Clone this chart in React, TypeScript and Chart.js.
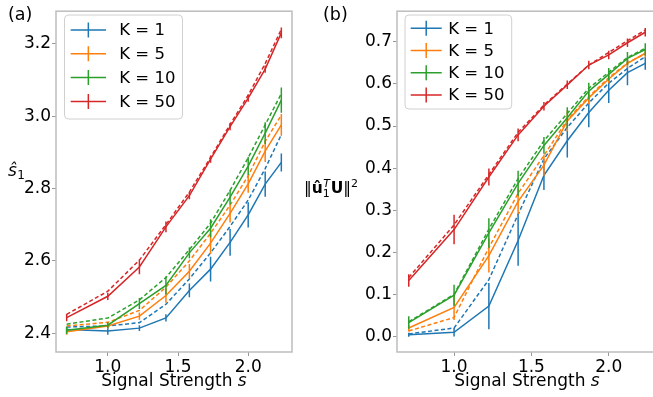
import React, { useEffect, useRef } from "react";
import { Chart, registerables } from "chart.js";
Chart.register(...registerables);

const xs = [0.707, 1.0, 1.225, 1.414, 1.581, 1.732, 1.871, 2.0, 2.121, 2.236];
const kLabels = ["K = 1", "K = 5", "K = 10", "K = 50"];
const colors = ["#1f77b4", "#ff7f0e", "#2ca02c", "#d62728"];
const xTicks = [1.0, 1.5, 2.0];

const aTicks = [2.4, 2.6, 2.8, 3.0, 3.2];
const aMeanK1 = [2.41, 2.406, 2.414, 2.442, 2.518, 2.577, 2.651, 2.727, 2.812, 2.872];
const aMeanK5 = [2.404, 2.42, 2.447, 2.504, 2.571, 2.649, 2.731, 2.813, 2.903, 2.976];
const aMeanK10 = [2.408, 2.422, 2.482, 2.532, 2.622, 2.69, 2.776, 2.862, 2.953, 3.044];
const aMeanK50 = [2.443, 2.502, 2.583, 2.694, 2.78, 2.881, 2.971, 3.05, 3.13, 3.23];
const aErrK1 = [0.008, 0.01, 0.008, 0.01, 0.019, 0.034, 0.037, 0.035, 0.035, 0.025];
const aErrK5 = [0.008, 0.008, 0.01, 0.02, 0.02, 0.03, 0.025, 0.025, 0.03, 0.03];
const aErrK10 = [0.01, 0.008, 0.015, 0.025, 0.015, 0.025, 0.02, 0.025, 0.03, 0.035];
const aErrK50 = [0.01, 0.01, 0.02, 0.015, 0.01, 0.01, 0.01, 0.01, 0.01, 0.015];
const aTheoK1 = [2.417, 2.42, 2.429, 2.48, 2.55, 2.622, 2.695, 2.768, 2.855, 2.949];
const aTheoK5 = [2.42, 2.43, 2.463, 2.527, 2.6, 2.676, 2.754, 2.835, 2.93, 3.003];
const aTheoK10 = [2.425, 2.442, 2.492, 2.554, 2.631, 2.704, 2.795, 2.885, 2.976, 3.062];
const aTheoK50 = [2.452, 2.516, 2.602, 2.7, 2.79, 2.886, 2.977, 3.058, 3.145, 3.24];

const bTicks = [0.0, 0.1, 0.2, 0.3, 0.4, 0.5, 0.6, 0.7];
const bMeanK1 = [0.004, 0.01, 0.072, 0.228, 0.383, 0.465, 0.532, 0.585, 0.627, 0.649];
const bMeanK5 = [0.02, 0.069, 0.192, 0.321, 0.407, 0.512, 0.567, 0.612, 0.649, 0.673];
const bMeanK10 = [0.033, 0.098, 0.246, 0.364, 0.454, 0.52, 0.583, 0.623, 0.661, 0.682];
const bMeanK50 = [0.133, 0.254, 0.379, 0.479, 0.547, 0.598, 0.645, 0.669, 0.698, 0.723];
const bErrK1 = [0.005, 0.01, 0.055, 0.06, 0.035, 0.04, 0.035, 0.03, 0.03, 0.015];
const bErrK5 = [0.008, 0.03, 0.04, 0.03, 0.025, 0.025, 0.015, 0.01, 0.01, 0.01];
const bErrK10 = [0.015, 0.025, 0.035, 0.03, 0.02, 0.025, 0.02, 0.015, 0.015, 0.015];
const bErrK50 = [0.015, 0.035, 0.02, 0.015, 0.01, 0.01, 0.01, 0.01, 0.01, 0.01];
const bTheoK1 = [0.006, 0.02, 0.135, 0.29, 0.422, 0.497, 0.555, 0.602, 0.637, 0.665];
const bTheoK5 = [0.013, 0.045, 0.211, 0.34, 0.43, 0.515, 0.57, 0.615, 0.65, 0.672];
const bTheoK10 = [0.035, 0.1, 0.255, 0.375, 0.465, 0.53, 0.59, 0.628, 0.663, 0.685];
const bTheoK50 = [0.14, 0.265, 0.385, 0.485, 0.55, 0.6, 0.645, 0.675, 0.703, 0.728];

const FONT = "'DejaVu Sans', sans-serif";

function buildDatasets(means: number[][], errs: number[][], theory: number[][]) {
  const ds: any[] = [];
  let order = 1000;
  means.forEach((m, k) => {
    const c = colors[k];
    ds.push({
      data: xs.map((x, i) => ({ x, y: theory[k][i] })),
      borderColor: c, borderWidth: 1.5, borderDash: [4, 2.5], pointRadius: 0, order: order--,
    });
    const eb: any[] = [];
    xs.forEach((x, i) => {
      eb.push({ x, y: m[i] - errs[k][i] });
      eb.push({ x, y: m[i] + errs[k][i] });
      eb.push({ x, y: null });
    });
    ds.push({ data: eb, borderColor: c, borderWidth: 1.5, pointRadius: 0, spanGaps: false, order: order-- });
    ds.push({
      data: xs.map((x, i) => ({ x, y: m[i] })),
      borderColor: c, borderWidth: 1.5, pointRadius: 0, order: order--,
    });
  });
  return ds;
}

type Deco = {
  offX: number;
  legend: { left: number; top: number; right: number; bottom: number; hx0: number; hx1: number; tx: number; row0: number; dy: number };
  panel: string;
  panelX: number;
  ylabel?: (ctx: CanvasRenderingContext2D) => void;
};

function makeDeco(d: Deco) {
  return {
    id: "deco",
    afterDraw(chart: any) {
      const ctx: CanvasRenderingContext2D = chart.ctx;
      const a = chart.chartArea;
      const o = d.offX;
      ctx.save();
      ctx.strokeStyle = "#bdbdbd";
      ctx.lineWidth = 1.5;
      ctx.strokeRect(a.left, a.top, a.right - a.left, a.bottom - a.top);
      const L = d.legend;
      ctx.beginPath();
      (ctx as any).roundRect(L.left - o, L.top, L.right - L.left, L.bottom - L.top, 4);
      ctx.fillStyle = "rgba(255,255,255,0.8)";
      ctx.fill();
      ctx.strokeStyle = "#d0d0d0";
      ctx.lineWidth = 1;
      ctx.stroke();
      ctx.font = `16.5px ${FONT}`;
      ctx.textBaseline = "middle";
      ctx.textAlign = "left";
      kLabels.forEach((lab, i) => {
        const y = L.row0 + i * L.dy;
        const hc = (L.hx0 + L.hx1) / 2 - o;
        ctx.strokeStyle = colors[i];
        ctx.lineWidth = 1.5;
        ctx.beginPath();
        ctx.moveTo(L.hx0 - o, y);
        ctx.lineTo(L.hx1 - o, y);
        ctx.moveTo(hc, y - 7.5);
        ctx.lineTo(hc, y + 7.5);
        ctx.stroke();
        ctx.fillStyle = "#000";
        ctx.fillText(lab, L.tx - o, y + 1);
      });
      ctx.fillStyle = "#000";
      ctx.textBaseline = "alphabetic";
      ctx.font = `17.5px ${FONT}`;
      ctx.fillText(d.panel, d.panelX - o, 19.5);
      ctx.font = `17px ${FONT}`;
      const t1 = "Signal Strength ";
      const w1 = ctx.measureText(t1).width;
      ctx.font = `italic 17px ${FONT}`;
      const w2 = ctx.measureText("s").width;
      const cx = (a.left + a.right) / 2;
      const sx = cx - (w1 + w2) / 2;
      ctx.font = `17px ${FONT}`;
      ctx.fillText(t1, sx, 386);
      ctx.font = `italic 17px ${FONT}`;
      ctx.fillText("s", sx + w1, 386);
      if (d.ylabel) {
        ctx.save();
        ctx.translate(-o, 0);
        d.ylabel(ctx);
        ctx.restore();
      }
      ctx.restore();
    },
  };
}

function ylabelA(ctx: CanvasRenderingContext2D) {
  ctx.fillStyle = "#000";
  ctx.textBaseline = "alphabetic";
  ctx.textAlign = "left";
  ctx.font = `italic 17px ${FONT}`;
  ctx.fillText("ŝ", 8, 176);
  const w = ctx.measureText("ŝ").width;
  ctx.font = `12px ${FONT}`;
  ctx.fillText("1", 8 + w + 0.5, 179);
}

// y label of panel (b): ‖û₁ᵀU‖², kept clear of the "0.4" tick label
function ylabelB(ctx: CanvasRenderingContext2D) {
  ctx.fillStyle = "#000";
  ctx.textBaseline = "alphabetic";
  ctx.textAlign = "left";
  const big = `15.5px ${FONT}`;
  const bold = `bold 15.5px ${FONT}`;
  const sm = `11px ${FONT}`;
  const smi = `italic 11px ${FONT}`;
  const mw = (f: string, t: string) => { ctx.font = f; return ctx.measureText(t).width; };
  const wBar = mw(big, "‖");
  const wu = mw(bold, "û");
  const wSub = Math.max(mw(sm, "1"), mw(smi, "T")) + 1;
  const wU = mw(bold, "U");
  const w2 = mw(sm, "2");
  const total = wBar + wu + wSub + wU + wBar + w2;
  const endX = 358;
  let x = endX - total;
  const base = 193;
  ctx.font = big; ctx.fillText("‖", x, base); x += wBar;
  ctx.font = bold; ctx.fillText("û", x, base); x += wu;
  ctx.font = sm; ctx.fillText("1", x, base + 3.5);
  ctx.font = smi; ctx.fillText("T", x + 0.5, base - 6.5); x += wSub;
  ctx.font = bold; ctx.fillText("U", x, base); x += wU;
  ctx.font = big; ctx.fillText("‖", x, base); x += wBar;
  ctx.font = sm; ctx.fillText("2", x, base - 6.5);
}

function makeConfig(
  datasets: any[], yMin: number, yMax: number, yTicks: number[], yWidth: number,
  padRight: number, padTop: number, deco: any
) {
  const tickFont = { family: FONT, size: 17 };
  return {
    type: "line" as const,
    data: { datasets },
    options: {
      animation: false as const,
      responsive: false,
      events: [],
      layout: { padding: { left: 0, right: padRight, top: padTop, bottom: 0 } },
      plugins: { legend: { display: false }, tooltip: { enabled: false } },
      elements: { line: { tension: 0, fill: false } },
      scales: {
        x: {
          type: "linear" as const,
          min: 0.631,
          max: 2.312,
          afterBuildTicks: (s: any) => { s.ticks = xTicks.map((v) => ({ value: v })); },
          afterFit: (s: any) => { s.height = 45; },
          ticks: {
            callback: (v: any) => Number(v).toFixed(1),
            font: tickFont, color: "#000", padding: 1, maxRotation: 0, autoSkip: false,
          },
          grid: { drawOnChartArea: false, tickLength: 4, tickColor: "#999", tickWidth: 1 },
          border: { display: false },
        },
        y: {
          type: "linear" as const,
          min: yMin,
          max: yMax,
          afterBuildTicks: (s: any) => { s.ticks = yTicks.map((v) => ({ value: v })); },
          afterFit: (s: any) => { s.width = yWidth; },
          ticks: {
            callback: (v: any) => Number(v).toFixed(1),
            font: tickFont, color: "#000", padding: 1, autoSkip: false,
          },
          grid: { drawOnChartArea: false, tickLength: 4, tickColor: "#999", tickWidth: 1 },
          border: { display: false },
        },
      },
    },
    plugins: [deco],
  };
}

const B_LEFT = 300;

export default function App() {
  const refA = useRef<HTMLCanvasElement>(null);
  const refB = useRef<HTMLCanvasElement>(null);

  useEffect(() => {
    const decoA = makeDeco({
      offX: 0,
      legend: { left: 64.5, top: 15, right: 182.5, bottom: 119, hx0: 70.7, hx1: 106, tx: 119.3, row0: 30, dy: 23.8 },
      panel: "(a)",
      panelX: 8,
      ylabel: ylabelA,
    });
    const decoB = makeDeco({
      offX: B_LEFT,
      legend: { left: 405, top: 15, right: 511.7, bottom: 109, hx0: 410.7, hx1: 441.7, tx: 448.3, row0: 28.3, dy: 22.2 },
      panel: "(b)",
      panelX: 323,
      ylabel: ylabelB,
    });
    const dsA = buildDatasets(
      [aMeanK1, aMeanK5, aMeanK10, aMeanK50],
      [aErrK1, aErrK5, aErrK10, aErrK50],
      [aTheoK1, aTheoK5, aTheoK10, aTheoK50]
    );
    const dsB = buildDatasets(
      [bMeanK1, bMeanK5, bMeanK10, bMeanK50],
      [bErrK1, bErrK5, bErrK10, bErrK50],
      [bTheoK1, bTheoK5, bTheoK10, bTheoK50]
    );
    const chartA = new Chart(refA.current!, makeConfig(dsA, 2.348, 3.29, aTicks, 56, B_LEFT - 292, 6, decoA) as any);
    const chartB = new Chart(refB.current!, makeConfig(dsB, -0.037, 0.773, bTicks, 397 - B_LEFT, 3, 7, decoB) as any);
    return () => {
      chartA.destroy();
      chartB.destroy();
    };
  }, []);

  return (
    <div style={{ position: "fixed", left: 0, top: 0, width: 653, height: 397, overflow: "hidden", background: "#fff" }}>
      <canvas ref={refA} width={B_LEFT} height={397} style={{ position: "absolute", left: 0, top: 0, width: B_LEFT, height: 397 }} />
      <canvas ref={refB} width={660 - B_LEFT} height={397} style={{ position: "absolute", left: B_LEFT, top: 0, width: 660 - B_LEFT, height: 397 }} />
    </div>
  );
}
